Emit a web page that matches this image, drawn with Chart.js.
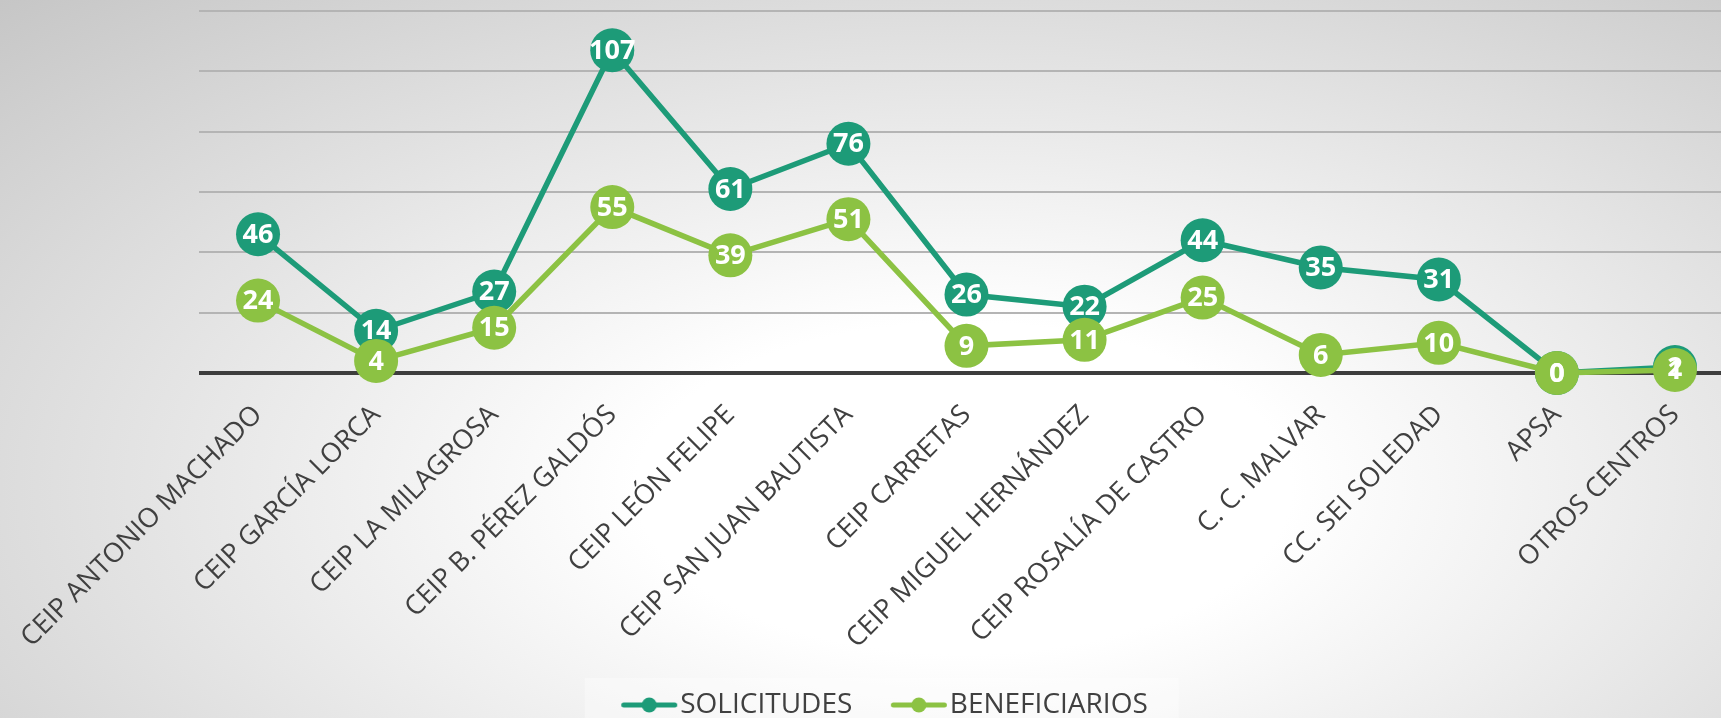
<!DOCTYPE html>
<html lang="es">
<head>
<meta charset="utf-8">
<title>Solicitudes y beneficiarios por centro</title>
<script src="https://cdn.jsdelivr.net/npm/chart.js@4.4.1/dist/chart.umd.min.js"></script>
<style>
  html, body { margin: 0; padding: 0; overflow: hidden; width: 1721px; height: 718px; }
  body { background: radial-gradient(ellipse farthest-corner at 56% 68%, #ffffff 0%, #ffffff 24%, #c6c6c6 100%); }
  #wrap { position: relative; width: 1734px; height: 729px; }
</style>
</head>
<body>
<div id="wrap"><canvas id="chart"></canvas></div>
<script>
const categories = [
  'CEIP ANTONIO MACHADO', 'CEIP GARCÍA LORCA', 'CEIP LA MILAGROSA', 'CEIP B. PÉREZ GALDÓS',
  'CEIP LEÓN FELIPE', 'CEIP SAN JUAN BAUTISTA', 'CEIP CARRETAS', 'CEIP MIGUEL HERNÁNDEZ',
  'CEIP ROSALÍA DE CASTRO', 'C. C. MALVAR', 'CC. SEI SOLEDAD', 'APSA', 'OTROS CENTROS'
];
const solicitudes   = [46, 14, 27, 107, 61, 76, 26, 22, 44, 35, 31, 0, 2];
const beneficiarios = [24, 4, 15, 55, 39, 51, 9, 11, 25, 6, 10, 0, 1];
const seriesNames = ['SOLICITUDES', 'BENEFICIARIOS'];
const seriesColors = ['#1d9b78', '#8cc243'];
const yTicks = [0, 20, 40, 60, 80, 100, 120];

const FONT = "'Open Sans', 'DejaVu Sans', sans-serif";
const TEXT = '#404040';

// legend marker: line with a dot, drawn inside a wider transparent canvas
function legendMarker(color) {
  const c = document.createElement('canvas');
  c.width = 76; c.height = 16;
  const g = c.getContext('2d');
  const x0 = 18.5;
  g.strokeStyle = color; g.lineWidth = 5; g.lineCap = 'round';
  g.beginPath(); g.moveTo(x0 + 3, 8); g.lineTo(x0 + 54, 8); g.stroke();
  g.fillStyle = color; g.beginPath(); g.arc(x0 + 28.5, 8, 7.5, 0, Math.PI * 2); g.fill();
  return c;
}
const markers = seriesColors.map(legendMarker);

const valueLabels = {
  id: 'valueLabels',
  afterDatasetsDraw(chart) {
    const ctx = chart.ctx;
    ctx.save();
    ctx.fillStyle = '#ffffff';
    ctx.font = "bold 27px " + FONT;
    ctx.textAlign = 'center';
    ctx.textBaseline = 'middle';
    [0, 1].forEach(di => {
      const meta = chart.getDatasetMeta(di);
      meta.data.forEach((pt, i) => {
        ctx.fillText(String(chart.data.datasets[di].data[i]), pt.x, pt.y + 1);
      });
    });
    ctx.restore();
  }
};

const legendBack = {
  id: 'legendBack',
  beforeDraw(chart) {
    const lg = chart.legend;
    if (!lg || !lg.legendHitBoxes || !lg.legendHitBoxes.length) return;
    const hb = lg.legendHitBoxes;
    const last = hb[hb.length - 1];
    const l = hb[0].left + 6.5 - 36, r = last.left + last.width + 31;
    const ctx = chart.ctx;
    ctx.save();
    ctx.fillStyle = 'rgba(255,255,255,0.35)';
    ctx.fillRect(l, 678, r - l, 60);
    ctx.restore();
  }
};

new Chart(document.getElementById('chart'), {
  type: 'line',
  data: {
    labels: categories,
    datasets: [
      { label: seriesNames[0], data: solicitudes, order: 1,
        borderColor: seriesColors[0], backgroundColor: seriesColors[0],
        pointBackgroundColor: seriesColors[0], pointBorderWidth: 0,
        borderWidth: 5.5, pointRadius: 22, pointHoverRadius: 22, tension: 0, clip: false },
      { label: seriesNames[1], data: beneficiarios, order: 0,
        borderColor: seriesColors[1], backgroundColor: seriesColors[1],
        pointBackgroundColor: seriesColors[1], pointBorderWidth: 0,
        borderWidth: 5.5, pointRadius: 22, pointHoverRadius: 22, tension: 0, clip: false }
    ]
  },
  options: {
    responsive: true,
    maintainAspectRatio: false,
    animation: false,
    events: [],
    layout: { autoPadding: false, padding: { top: 11, left: 28, right: 0, bottom: 0 } },
    scales: {
      x: {
        type: 'category',
        offset: true,
        grid: { display: false },
        border: { display: false },
        ticks: {
          autoSkip: false, minRotation: 45, maxRotation: 45, padding: 18,
          color: TEXT, font: { family: FONT, size: 27 }
        },
        afterFit(scale) { scale.height = 286.5; scale.paddingLeft = 0; scale.paddingRight = 0; }
      },
      y: {
        min: yTicks[0], max: yTicks[yTicks.length - 1],
        afterBuildTicks(scale) { scale.ticks = yTicks.map(v => ({ value: v })); },
        ticks: { display: false },
        border: { display: false },
        grid: {
          drawTicks: false,
          color: c => (c.tick && c.tick.value === 0) ? '#3d3d3d' : '#b4b4b4',
          lineWidth: c => (c.tick && c.tick.value === 0) ? 4 : 2
        },
        afterFit(scale) { scale.width = 171; scale.paddingTop = 0; scale.paddingBottom = 0; }
      }
    },
    plugins: {
      tooltip: { enabled: false },
      legend: {
        position: 'bottom',
        labels: {
          usePointStyle: true,
          pointStyleWidth: 52,
          padding: 31.5,
          color: TEXT,
          font: { family: FONT, size: 28 },
          sort: (a, b) => a.datasetIndex - b.datasetIndex,
          generateLabels(chart) {
            const items = Chart.defaults.plugins.legend.labels.generateLabels(chart);
            items.forEach(it => { it.pointStyle = markers[it.datasetIndex]; });
            return items;
          }
        }
      }
    }
  },
  plugins: [legendBack, valueLabels]
});
</script>
</body>
</html>
